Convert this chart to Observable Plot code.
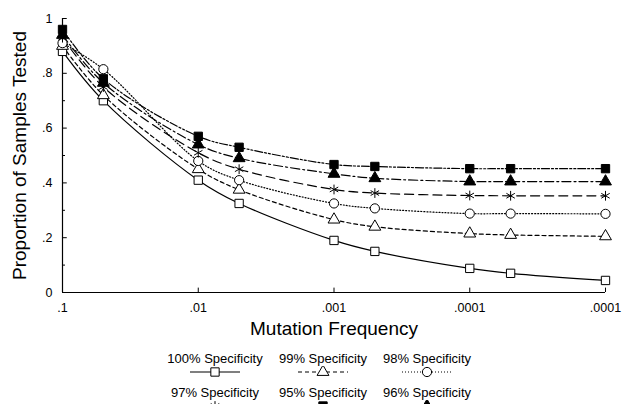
<!DOCTYPE html>
<html><head><meta charset="utf-8">
<script src="https://cdn.jsdelivr.net/npm/d3@7"></script>
<script src="https://cdn.jsdelivr.net/npm/@observablehq/plot@0.6"></script>
<style>
body{margin:0;background:#fff;font-family:"Liberation Sans",Arial,Helvetica,sans-serif}
#wrap{position:relative;width:625px;height:404px;overflow:hidden;background:#fff}
#wrap svg.plot{position:absolute;left:0;top:0}
g[aria-label="x-axis label"] text, g[aria-label="y-axis label"] text{font-size:19px}
.leg{position:absolute;width:140px;text-align:center;font-size:13px;line-height:15px;color:#000;white-space:nowrap}
.leg svg{display:block;margin:0 auto}
</style></head><body><div id="wrap"></div>
<script>
// ---- data ----
const freqs = [0.1, 0.05, 0.01, 0.005, 0.001, 0.0005, 0.0001, 0.00005, 0.00001];
const xTicks = [0.1, 0.01, 0.001, 0.0001, 0.00001];
const xTickLabels = [".1", ".01", ".001", ".0001", ".0001"];
const yTicks = [0, 0.2, 0.4, 0.6, 0.8, 1];
const yTickLabels = ["0", ".2", ".4", ".6", ".8", "1"];
const yMinorTicks = [0.1, 0.3, 0.5, 0.7, 0.9];
const seriesNames = ["100% Specificity", "99% Specificity", "98% Specificity", "97% Specificity", "95% Specificity", "96% Specificity"];
const spec100 = [0.88, 0.70, 0.41, 0.325, 0.19, 0.15, 0.088, 0.07, 0.044];
const spec99  = [0.90, 0.72, 0.45, 0.375, 0.266, 0.24, 0.215, 0.21, 0.205];
const spec98  = [0.91, 0.815, 0.48, 0.41, 0.325, 0.307, 0.288, 0.288, 0.287];
const spec97  = [0.93, 0.75, 0.51, 0.45, 0.376, 0.363, 0.354, 0.353, 0.353];
const spec95  = [0.96, 0.78, 0.57, 0.53, 0.467, 0.46, 0.452, 0.452, 0.452];
const spec96  = [0.94, 0.765, 0.54, 0.49, 0.433, 0.417, 0.405, 0.405, 0.405];

// ---- styles ----
const styles = [
  {values: spec100, dash: null,              symbol: "square",   fill: "white", r: 4.7},
  {values: spec99,  dash: "4,3",             symbol: "triangle", fill: "white", r: 4.4},
  {values: spec98,  dash: "1,2",             symbol: "circle",   fill: "white", r: 4.6},
  {values: spec97,  dash: "9,5",             symbol: "asterisk", fill: "none",  r: 4.6},
  {values: spec95,  dash: "8,2,2,2,2,2",     symbol: "square",   fill: "black", r: 4.7},
  {values: spec96,  dash: "9,3,2,3",         symbol: "triangle", fill: "black", r: 4.4}
];
const series = styles.map((s, k) => ({...s, name: seriesNames[k], data: freqs.map((f, i) => ({f, v: s.values[i]}))}));

const xLab = new Map(xTicks.map((t, i) => [t, xTickLabels[i]]));
const yLab = new Map(yTicks.map((t, i) => [t, yTickLabels[i]]));

const marks = [
  // axis lines
  Plot.ruleX([freqs[0]], {y1: 0, y2: 1, stroke: "black", strokeWidth: 1.2}),
  Plot.ruleY([0], {stroke: "black", strokeWidth: 1.2}),
  // inward ticks
  Plot.ruleY(yTicks, {x1: freqs[0], x2: freqs[0] * Math.pow(10, -0.035), stroke: "black"}),
  Plot.ruleY(yMinorTicks, {x1: freqs[0], x2: freqs[0] * Math.pow(10, -0.022), stroke: "black"}),
  Plot.ruleX(xTicks, {y1: 0, y2: 0.016, stroke: "black"}),
  Plot.axisX(xTicks, {tickFormat: d => xLab.get(d), tickSize: 0, tickPadding: 11, fontSize: 12.5,
    label: "Mutation Frequency", labelAnchor: "center", labelArrow: "none", labelOffset: 42}),
  Plot.axisY(yTicks, {tickFormat: d => yLab.get(d), tickSize: 0, tickPadding: 10, fontSize: 12.5,
    label: "Proportion of Samples Tested", labelAnchor: "center", labelArrow: "none", labelOffset: 50})
];
for (const s of series) {
  marks.push(Plot.line(s.data, {x: "f", y: "v", stroke: "black", strokeWidth: 1.2,
    strokeDasharray: s.dash, curve: "catmull-rom"}));
}
for (const s of series) {
  marks.push(Plot.dot(s.data, {x: "f", y: "v", symbol: () => s.symbol, r: s.r,
    fill: s.fill, stroke: "black", strokeWidth: 1}));
}

const chart = Plot.plot({
  width: 625, height: 340,
  marginLeft: 62, marginRight: 20, marginTop: 18, marginBottom: 48,
  style: {fontFamily: '"Liberation Sans", Arial, sans-serif', color: "black", background: "white"},
  x: {type: "log", domain: [freqs[0], freqs[freqs.length - 1]]},
  y: {domain: [0, 1]},
  symbol: {type: "identity"},
  marks
});
chart.classList.add("plot");
document.getElementById("wrap").appendChild(chart);

// ---- legend ----
const colX = [215, 323, 427];
const rowY = [351, 385];
series.forEach((s, j) => {
  const div = document.createElement("div");
  div.className = "leg";
  div.style.left = (colX[j % 3] - 70) + "px";
  div.style.top = rowY[Math.floor(j / 3)] + "px";
  div.appendChild(document.createTextNode(s.name));
  const svg = d3.create("svg").attr("width", 54).attr("height", 12);
  svg.append("line").attr("x1", 2).attr("x2", 52).attr("y1", 6).attr("y2", 6)
    .attr("stroke", "black").attr("stroke-width", 1.2).attr("stroke-dasharray", s.dash);
  const symMap = {square: d3.symbolSquare, triangle: d3.symbolTriangle, circle: d3.symbolCircle, asterisk: d3.symbolAsterisk};
  svg.append("path").attr("transform", "translate(27,6)")
    .attr("d", d3.symbol(symMap[s.symbol], Math.PI * s.r * s.r)())
    .attr("fill", s.fill).attr("stroke", "black");
  div.appendChild(svg.node());
  document.getElementById("wrap").appendChild(div);
});
</script></body></html>
